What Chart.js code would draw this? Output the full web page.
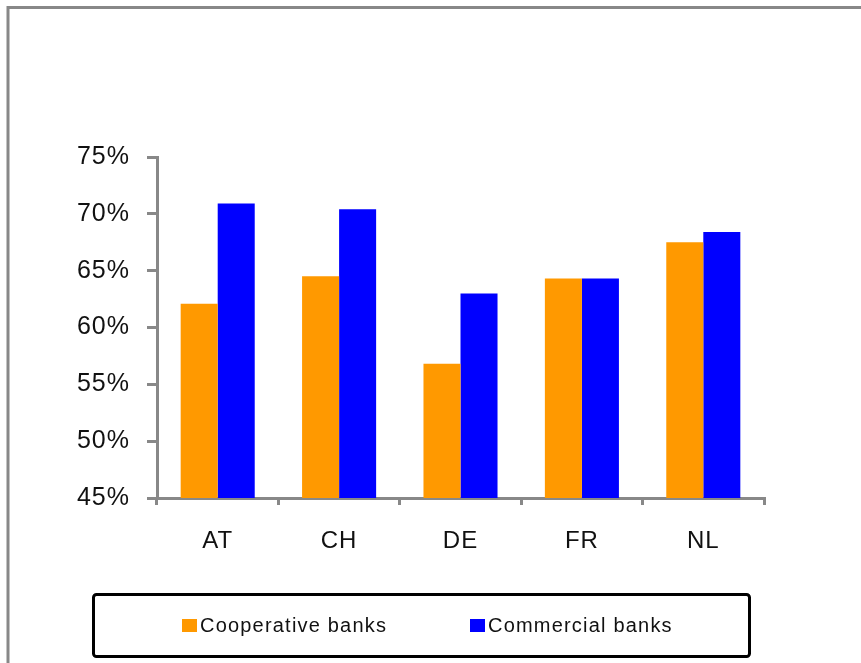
<!DOCTYPE html>
<html>
<head>
<meta charset="utf-8">
<script src="https://cdn.jsdelivr.net/npm/chart.js@4/dist/chart.umd.min.js"></script>
<style>
  html, body { margin: 0; padding: 0; background: #fff; }
  canvas { display: block; }
</style>
</head>
<body>
<canvas id="banks" width="861" height="663"></canvas>
<script>
var countries = ['AT', 'CH', 'DE', 'FR', 'NL'];
var cooperative = [62.1, 64.5, 56.8, 64.3, 67.5];
var commercial = [70.9, 70.4, 63.0, 64.3, 68.4];
var seriesNames = ['Cooperative banks', 'Commercial banks'];
var seriesColors = ['#ff9900', '#0000ff'];

var axisGrey = '#888888';
var fontFamily = '"Liberation Sans", Arial, sans-serif';

// grey outer frame + boxed legend under the plot
var decorations = {
    id: 'decorations',
    beforeDraw: function (chart) {
        chart.ctx.letterSpacing = '1px';
    },
    afterDraw: function (chart) {
        var ctx = chart.ctx;
        ctx.save();
        ctx.strokeStyle = axisGrey;
        ctx.lineWidth = 3;
        ctx.beginPath();
        ctx.moveTo(8, 663);
        ctx.lineTo(8, 7.5);
        ctx.lineTo(861, 7.5);
        ctx.stroke();

        ctx.strokeStyle = '#000';
        ctx.lineWidth = 3;
        ctx.beginPath();
        ctx.roundRect(93.5, 594.5, 656, 62, 3);
        ctx.stroke();

        var itemX = [182, 470];
        ctx.font = '20px ' + fontFamily;
        ctx.letterSpacing = '1.2px';
        ctx.textBaseline = 'middle';
        ctx.textAlign = 'left';
        chart.data.datasets.forEach(function (ds, i) {
            ctx.fillStyle = ds.backgroundColor;
            ctx.fillRect(itemX[i], 619, 15, 13);
            ctx.fillStyle = '#111';
            ctx.fillText(ds.label, itemX[i] + 18, 626);
        });
        ctx.restore();
    }
};

new Chart(document.getElementById('banks'), {
    type: 'bar',
    data: {
        labels: countries,
        datasets: [
            { label: seriesNames[0], data: cooperative, backgroundColor: seriesColors[0] },
            { label: seriesNames[1], data: commercial, backgroundColor: seriesColors[1] }
        ]
    },
    options: {
        responsive: false,
        animation: false,
        layout: { padding: { top: 157, right: 97, bottom: 0, left: 0 } },
        datasets: {
            bar: { categoryPercentage: 0.61, barPercentage: 1.0 }
        },
        plugins: {
            legend: { display: false },
            tooltip: { enabled: false }
        },
        scales: {
            x: {
                afterFit: function (scale) { scale.height = 165; },
                border: { color: axisGrey, width: 3 },
                grid: {
                    drawOnChartArea: false,
                    color: axisGrey,
                    lineWidth: 3,
                    tickLength: 7,
                    offset: true
                },
                ticks: {
                    color: '#111',
                    padding: 22,
                    font: { family: fontFamily, size: 24 }
                }
            },
            y: {
                min: 45,
                max: 75,
                afterFit: function (scale) { scale.width = 157; },
                border: { color: axisGrey, width: 3 },
                grid: {
                    drawOnChartArea: false,
                    color: axisGrey,
                    lineWidth: 3,
                    tickLength: 10
                },
                ticks: {
                    stepSize: 5,
                    color: '#111',
                    padding: 17,
                    font: { family: fontFamily, size: 25 },
                    callback: function (v) { return v + '%'; }
                }
            }
        }
    },
    plugins: [decorations]
});
</script>
</body>
</html>
